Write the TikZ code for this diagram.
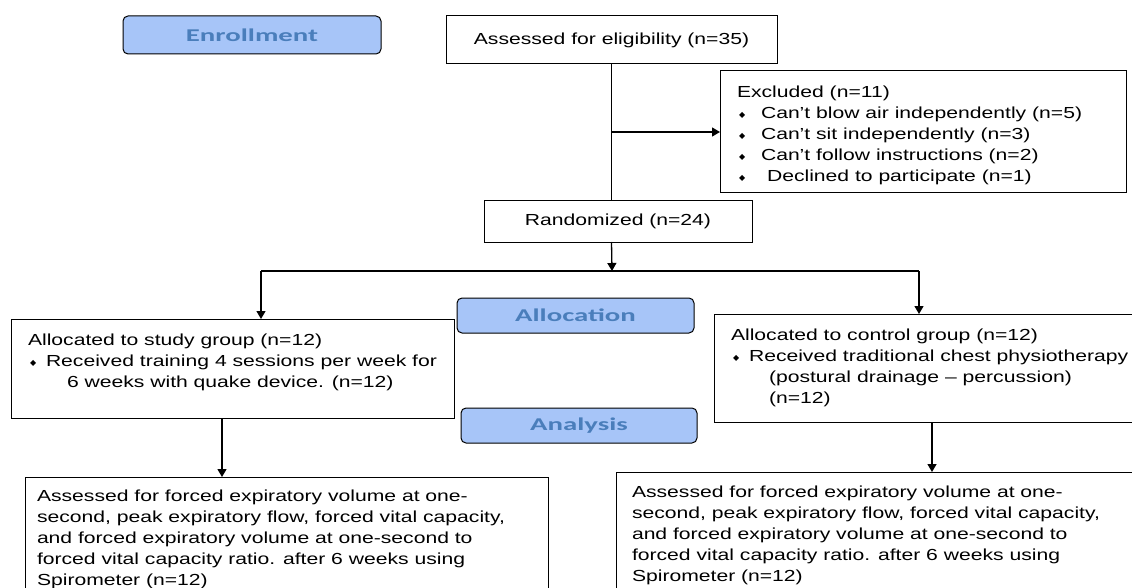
\documentclass[tikz,border=0pt]{standalone}
\usepackage{fontspec}
\setmainfont{Liberation Sans}[FakeStretch=1.32]
\newfontfamily\labelfont{Carlito}[FakeStretch=1.6]
\newfontfamily\dejavu{DejaVu Sans}
\usetikzlibrary{arrows.meta,calc}
\definecolor{lblfill}{HTML}{A7C5F8}
\definecolor{lbltext}{HTML}{4A7EBB}
\newcommand\bul[1]{\makebox[#1][l]{\hspace{2pt}\raisebox{1pt}{\dejavu\fontsize{8}{8}\selectfont ◆}}}
\begin{document}
\begin{tikzpicture}[x=1pt,y=-1pt,
  box/.style={draw, line width=1pt, inner sep=0pt, outer sep=0pt, anchor=north west,
    font=\fontsize{16}{21}\selectfont},
  lbl/.style={draw, line width=1pt, rounded corners=5pt, fill=lblfill, text=lbltext,
    font=\labelfont\bfseries\fontsize{18}{18}\selectfont, inner sep=0pt, outer sep=0pt, anchor=north west},
  txt/.style={align=left, inner sep=0pt, outer sep=0pt, anchor=north west,
    font=\fontsize{16}{21}\selectfont},
  ln/.style={line width=1.3pt},
  arr/.style={line width=1.3pt, -{Triangle[length=8pt,width=9pt]}}]
\clip (0,0) rectangle (1132,588);
\fill[white] (0,0) rectangle (1132,588);

% stage labels
\node[lbl, minimum width=258, minimum height=38] (enr) at (123,16) {Enrollment};
\node[lbl, minimum width=237, minimum height=35] (alloc) at (457,298) {Allocation};
\node[lbl, minimum width=236, minimum height=35] (anal) at (461,408) {Analysis};

% boxes
\node[box, minimum width=331, minimum height=48] (assess) at (446,16) {Assessed for eligibility (n=35)};
\node[box, minimum width=406, minimum height=122] (excl) at (720,71) {};
\node[box, minimum width=268, minimum height=41] (rand) at (484,201) {Randomized (n=24)};
\node[box, minimum width=443, minimum height=99] (study) at (11,319) {};
\node[box, minimum width=440, minimum height=108] (ctrl) at (714,314) {};
\node[box, minimum width=523, minimum height=150] (bl) at (25,477) {};
\node[box, minimum width=540, minimum height=150] (br) at (616,472) {};

% texts
\node[txt] (excltxt) at ($(excl.north west)+(17,15)$) {Excluded (n=11)\\
\bul{24pt}Can’t blow air independently (n=5)\\
\bul{24pt}Can’t sit independently (n=3)\\
\bul{24pt}Can’t follow instructions (n=2)\\
\bul{30pt}Declined to participate (n=1)};

\node[txt] (studytxt) at ($(study.north west)+(17,15)$) {Allocated to study group (n=12)\\
\bul{18pt}Received training 4 sessions per week for\\
\hspace*{39pt}6 weeks with quake device. (n=12)};

\node[txt] (ctrltxt) at ($(ctrl.north west)+(17,15)$) {Allocated to control group (n=12)\\
\bul{18pt}Received traditional chest physiotherapy\\
\hspace*{38pt}(postural drainage – percussion)\\
\hspace*{38pt}(n=12)};

\node[txt] (bltxt) at ($(bl.north west)+(12,13)$) {Assessed for forced expiratory volume at one-\\
second, peak expiratory flow, forced vital capacity,\\
and forced expiratory volume at one-second to\\
forced vital capacity ratio. after 6 weeks using\\
Spirometer (n=12)};

\node[txt] (brtxt) at ($(br.north west)+(16,14)$) {Assessed for forced expiratory volume at one-\\
second, peak expiratory flow, forced vital capacity,\\
and forced expiratory volume at one-second to\\
forced vital capacity ratio. after 6 weeks using\\
Spirometer (n=12)};

% connector helpers
\coordinate (ms) at (612,271);
\coordinate (ls) at (261,271);
\coordinate (rs) at (919,271);
\coordinate (sa) at (222,0);
\coordinate (ca) at (932,0);

% connectors
\draw[ln] (assess.south) -- (assess.south |- rand.north);
\draw[arr] (assess.south |- excl.west) -- (excl.west);
\draw[arr] (assess.south |- rand.south) -- (ms);
\draw[ln] (ls) -- (rs);
\draw[arr] (ls) -- (ls |- study.north);
\draw[arr] (rs) -- (rs |- ctrl.north);
\draw[arr] (study.south -| sa) -- (bl.north -| sa);
\draw[arr] (ctrl.south -| ca) -- (br.north -| ca);
\end{tikzpicture}
\end{document}
